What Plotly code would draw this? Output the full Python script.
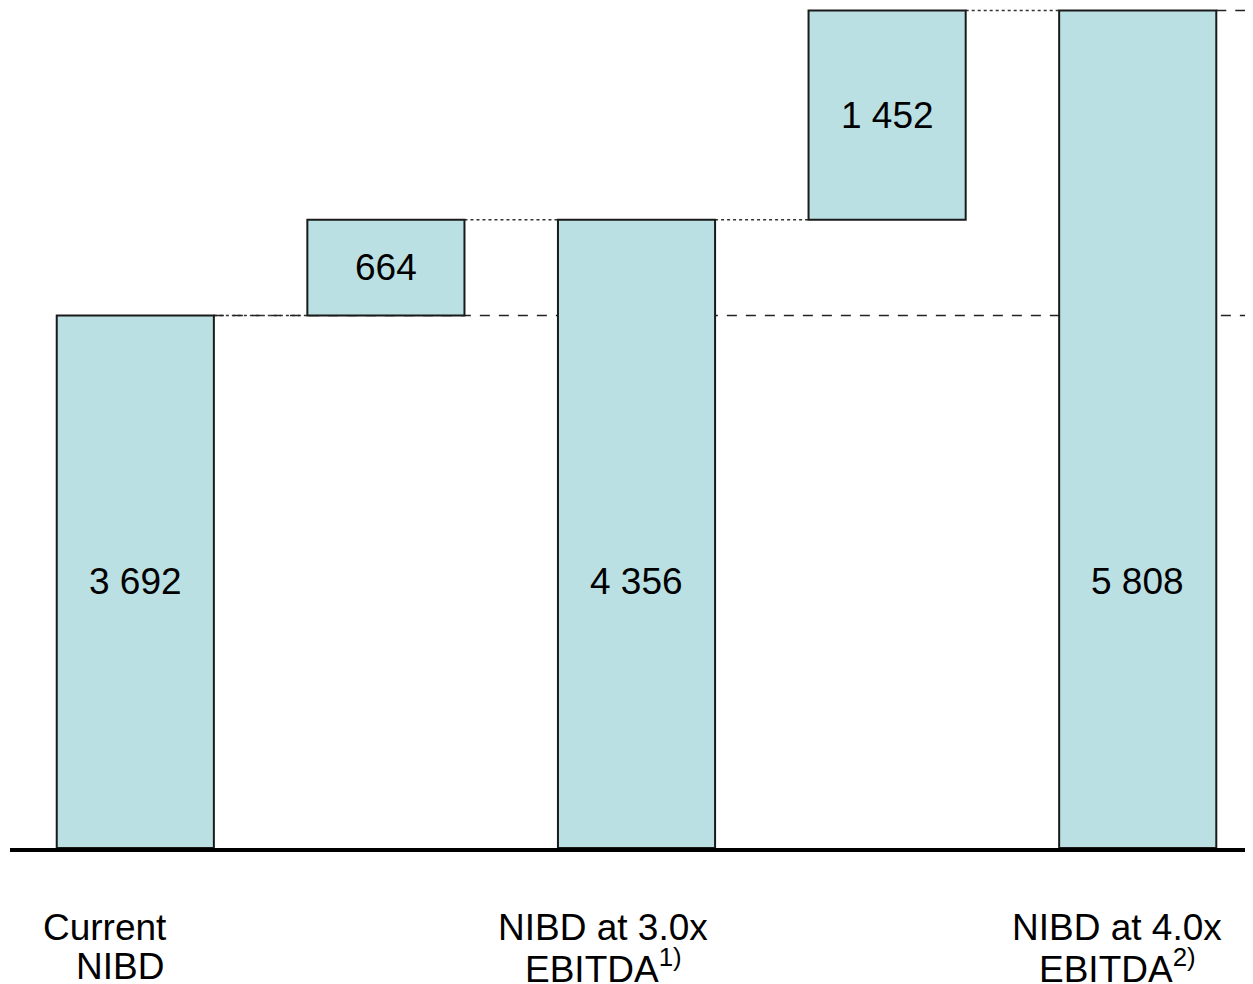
import plotly.graph_objects as go

# waterfall data
values = [3692, 664, 4356, 1452, 5808]
bases = [0, 3692, 0, 4356, 0]
is_total = [True, False, True, False, True]
value_text = ["3 692", "664", "4 356", "1 452", "5 808"]
label_top = ["Current", "", "NIBD at 3.0x", "", "NIBD at 4.0x"]
label_bottom = ["NIBD", "", "EBITDA<sup>1)</sup>", "", "EBITDA<sup>2)</sup>"]
top_shift = [-30, 0, -34, 0, -21]
bottom_shift = [-15, 0, -33, 0, -20]

x = list(range(len(values)))
bar_w = 0.627
x_max = 4.46
font = dict(family="Liberation Sans, Arial, sans-serif", size=37, color="black")

fig = go.Figure(go.Bar(
    x=x, y=values, base=bases, width=bar_w,
    marker=dict(color="#BBE0E3", line=dict(color="#1a1a1a", width=2)),
    hoverinfo="skip",
))

tops = [b + v for b, v in zip(bases, values)]

# values inside each bar; totals share the height of the first bar's middle
for i in x:
    y_txt = values[0] / 2 if is_total[i] else bases[i] + values[i] / 2
    fig.add_annotation(x=i, y=y_txt, text=value_text[i], showarrow=False, font=font)

# category labels under the axis
for i in x:
    if label_top[i]:
        fig.add_annotation(x=i, y=0, yref="paper", yanchor="middle", text=label_top[i],
                           showarrow=False, font=font, xshift=top_shift[i], yshift=-79)
        fig.add_annotation(x=i, y=0, yref="paper", yanchor="middle", text=label_bottom[i],
                           showarrow=False, font=font, xshift=bottom_shift[i], yshift=-118)

# dotted connectors between bars
for i in range(len(values) - 1):
    fig.add_shape(type="line", x0=i + bar_w / 2, x1=i + 1 - bar_w / 2, y0=tops[i], y1=tops[i],
                  line=dict(color="#333", width=1.5, dash="dot"), layer="below")

# dashed reference lines to the right edge
for i in (0, 4):
    fig.add_shape(type="line", x0=i + bar_w / 2, x1=x_max, y0=tops[i], y1=tops[i],
                  line=dict(color="#222", width=1.5, dash="10px,9px"), layer="below")

fig.update_layout(
    width=1245, height=976,
    margin=dict(l=2, r=0, t=0, b=136),
    plot_bgcolor="white", paper_bgcolor="white",
    showlegend=False,
    xaxis=dict(range=[-0.5, x_max], showticklabels=False, showgrid=False, zeroline=False,
               showline=True, linewidth=4, linecolor="black", ticks=""),
    yaxis=dict(range=[0, 5825], visible=False),
)

fig.write_html("out.html")
